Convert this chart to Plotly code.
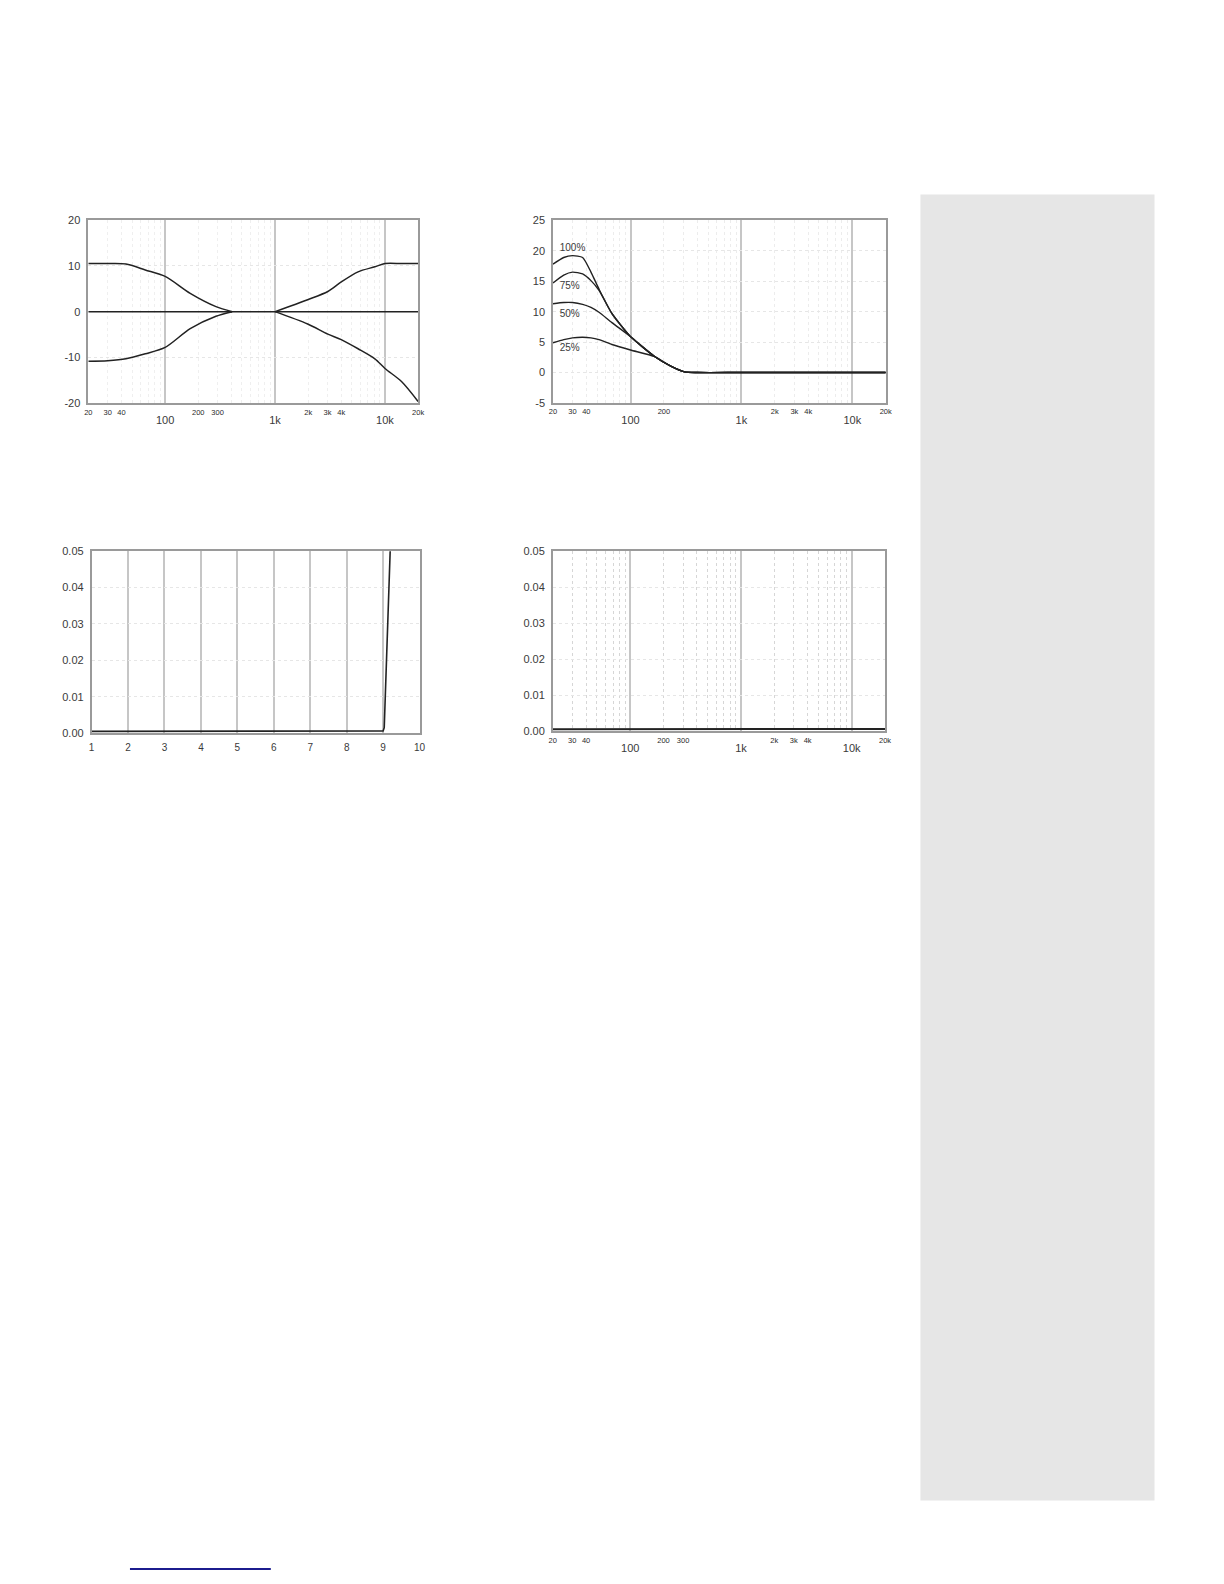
import numpy as np
import plotly.graph_objects as go

W, H = 1224, 1584

# ---------------- data ----------------
# Chart 1: tone control (bass/treble boost & cut), dB vs Hz
flat_freq = [20, 20000]
flat_db = [0, 0]
bass_freq = [20, 30, 44, 66, 100, 169, 290, 407]
bass_boost = [10.5, 10.5, 10.4, 9.1, 7.7, 4.0, 1.1, 0]
bass_cut = [-10.8, -10.7, -10.3, -9.2, -7.8, -3.7, -1.0, 0]
treble_freq = [1000, 1980, 3020, 4000, 5690, 8090, 10000, 14200, 20000]
treble_boost = [0, 2.6, 4.4, 6.5, 8.7, 9.8, 10.5, 10.5, 10.5]
treble_cut = [0, -2.7, -4.9, -6.1, -8.1, -10.3, -12.4, -15.3, -19.6]

# Chart 2: loudness curves, dB vs Hz
loud_freq = [20, 25, 30, 37, 44, 52, 68, 100, 166, 233, 307, 400, 1000, 20000]
loud_100 = [17.8, 18.9, 19.2, 18.9, 16.5, 13.7, 9.7, 5.9, 2.6, 1.0, 0.1, 0, 0, 0]
loud_75 = [14.7, 16.0, 16.5, 16.2, 15.1, 13.5, 9.7, 5.9, 2.6, 1.0, 0.1, 0, 0, 0]
loud_50 = [11.3, 11.5, 11.5, 11.2, 10.7, 9.9, 8.2, 5.9, 2.6, 1.0, 0.1, 0, 0, 0]
loud_25 = [4.9, 5.4, 5.7, 5.8, 5.7, 5.4, 4.6, 3.7, 2.6, 1.0, 0.1, 0, 0, 0]
loud_labels = ["100%", "75%", "50%", "25%"]
loud_label_y = [20.4, 14.1, 9.5, 3.9]
loud_label_f = 23.0

# Chart 3: THD vs output level
thd_x = [1, 2, 3, 4, 4.4, 5, 6, 7, 8, 9, 9.03, 9.12, 9.2]
thd_y = [0.0005, 0.0005, 0.0005, 0.0006, 0.0006, 0.0004, 0.0004, 0.0004,
         0.0005, 0.0006, 0.0015, 0.028, 0.052]

# Chart 4: THD vs frequency
thdf_freq = [20, 100, 1000, 10000, 20000]
thdf_vals = [0.0006, 0.0006, 0.0006, 0.0007, 0.0007]

# tick labels
major_vals = [100, 1000, 10000]
major_text = ["100", "1k", "10k"]
small_vals_a = [20, 30, 40, 200, 300, 2000, 3000, 4000, 20000]
small_text_a = ["20", "30", "40", "200", "300", "2k", "3k", "4k", "20k"]
small_vals_b = [20, 30, 40, 200, 2000, 3000, 4000, 20000]
small_text_b = ["20", "30", "40", "200", "2k", "3k", "4k", "20k"]
y1_vals = [-20, -10, 0, 10, 20]
y1_text = ["-20", "-10", "0", "10", "20"]
y2_vals = [-5, 0, 5, 10, 15, 20, 25]
y2_text = ["-5", "0", "5", "10", "15", "20", "25"]
x3_vals = list(range(1, 11))
y34_vals = [0, 0.01, 0.02, 0.03, 0.04, 0.05]

FONT = "Liberation Sans"
TXT = "#3a3a3a"
LINE = "#222222"


def dx(a, b):
    return [a / W, b / W]


def dy(top, bottom):
    return [1 - bottom / H, 1 - top / H]


minor_log = [m * 10 ** e for e in range(1, 5) for m in range(2, 10)
             if 20 <= m * 10 ** e <= 20000]

fig = go.Figure()

# chart 1
for xs, ys in [(flat_freq, flat_db), (bass_freq, bass_boost), (bass_freq, bass_cut),
               (treble_freq, treble_boost), (treble_freq, treble_cut)]:
    fig.add_trace(go.Scatter(x=xs, y=ys, mode="lines",
                             line=dict(color=LINE, width=1.5, shape="spline", smoothing=0.8),
                             xaxis="x", yaxis="y", hoverinfo="skip"))
# chart 2
for ys in [loud_100, loud_75, loud_50, loud_25]:
    fig.add_trace(go.Scatter(x=loud_freq, y=ys, mode="lines",
                             line=dict(color=LINE, width=1.4, shape="spline", smoothing=0.6),
                             xaxis="x2", yaxis="y2", hoverinfo="skip"))
fig.add_trace(go.Scatter(x=[loud_label_f] * 4, y=loud_label_y, mode="text", text=loud_labels,
                         textposition="middle right", textfont=dict(family=FONT, size=10, color=TXT),
                         xaxis="x2", yaxis="y2", hoverinfo="skip"))
# chart 3
fig.add_trace(go.Scatter(x=thd_x, y=thd_y, mode="lines", line=dict(color=LINE, width=1.6),
                         xaxis="x3", yaxis="y3", hoverinfo="skip"))
# chart 4
fig.add_trace(go.Scatter(x=thdf_freq, y=thdf_vals, mode="lines", line=dict(color=LINE, width=2),
                         xaxis="x4", yaxis="y4", hoverinfo="skip"))

# invisible companions so the overlaid small-label axes get drawn
for xs, ys, xa, ya in [(flat_freq, flat_db, "x5", "y"), (loud_freq, loud_25, "x6", "y2"),
                       (thdf_freq, thdf_vals, "x7", "y4")]:
    fig.add_trace(go.Scatter(x=xs, y=ys, mode="lines", line=dict(width=0, color="rgba(0,0,0,0)"),
                             opacity=0, xaxis=xa, yaxis=ya, hoverinfo="skip"))

frame = dict(showline=True, linecolor="#9a9a9a", linewidth=1.5, mirror=True, zeroline=False)
rng_log = [np.log10(20), np.log10(20000)]


def log_main(domain, anchor, minor_color):
    return dict(domain=domain, anchor=anchor, type="log", range=rng_log,
                tickmode="array", tickvals=major_vals, ticktext=major_text,
                tickfont=dict(family=FONT, size=11, color=TXT), ticks="",
                ticklabelstandoff=6,
                showgrid=True, gridcolor="#c6c6c6", gridwidth=1.5,
                minor=dict(tickmode="array", tickvals=minor_log, showgrid=True,
                           gridcolor=minor_color, griddash="dot", gridwidth=1, ticks=""),
                **frame)


def log_small(over, anchor, vals, text):
    return dict(overlaying=over, anchor=anchor, side="bottom", type="log", range=rng_log,
                tickmode="array", tickvals=vals, ticktext=text,
                tickfont=dict(family=FONT, size=7.5, color="#2a2a2a"), ticks="",
                ticklabelstandoff=3,
                showgrid=False, showline=False, zeroline=False)


def yax(domain, anchor, rng, vals, text, fmt=None):
    d = dict(domain=domain, anchor=anchor, range=rng, tickmode="array", tickvals=vals,
             tickfont=dict(family=FONT, size=11, color=TXT), ticks="",
             ticklabelstandoff=4,
             showgrid=True, gridcolor="#e6e6e6", griddash="dot", gridwidth=1, **frame)
    if text is not None:
        d["ticktext"] = text
    if fmt:
        d["tickformat"] = fmt
    return d


fig.update_layout(
    autosize=True, margin=dict(l=0, r=0, t=0, b=0),
    paper_bgcolor="white", plot_bgcolor="white", showlegend=False,
    xaxis=log_main(dx(85, 417.5), "y", "#efefef"),
    yaxis=yax(dy(215.7, 400.3), "x", [-20, 20], y1_vals, y1_text),
    xaxis2=log_main(dx(553.5, 889), "y2", "#ececec"),
    yaxis2=yax(dy(216, 400), "x2", [-5, 25], y2_vals, y2_text),
    xaxis3=dict(domain=dx(88.3, 419), anchor="y3", range=[1, 10], tickmode="array", tickvals=x3_vals,
                tickfont=dict(family=FONT, size=10, color=TXT), ticks="", ticklabelstandoff=4,
                showgrid=True, gridcolor="#c6c6c6", gridwidth=1.5, **frame),
    yaxis3=yax(dy(549.3, 732.7), "x3", [0, 0.05], y34_vals, None, ".2f"),
    xaxis4=log_main(dx(553.3, 888.3), "y4", "#d6d6d6"),
    yaxis4=yax(dy(549.3, 731), "x4", [0, 0.05], y34_vals, None, ".2f"),
    xaxis5=log_small("x", "y", small_vals_a, small_text_a),
    xaxis6=log_small("x2", "y2", small_vals_b, small_text_b),
    xaxis7=log_small("x4", "y4", small_vals_a, small_text_a),
    shapes=[
        dict(type="rect", xref="paper", yref="paper", x0=924 / W, x1=1160 / W,
             y0=1 - 1506 / H, y1=1 - 190 / H, fillcolor="#e6e6e6", line=dict(width=0), layer="below"),
        dict(type="line", xref="paper", yref="paper", x0=127 / W, x1=269 / W,
             y0=1 - 1575 / H, y1=1 - 1575 / H, line=dict(color="#1c1c8e", width=2)),
    ],
)

fig.write_html(
    "out.html",
    config={"displayModeBar": False, "responsive": True},
    default_width="100vw",
    default_height="100vh",
    post_script=(
        "var s=document.documentElement.style;s.margin='0';s.padding='0';s.overflow='hidden';"
        "var b=document.body.style;b.margin='0';b.padding='0';b.overflow='hidden';"
        "window.dispatchEvent(new Event('resize'));"
    ),
)
